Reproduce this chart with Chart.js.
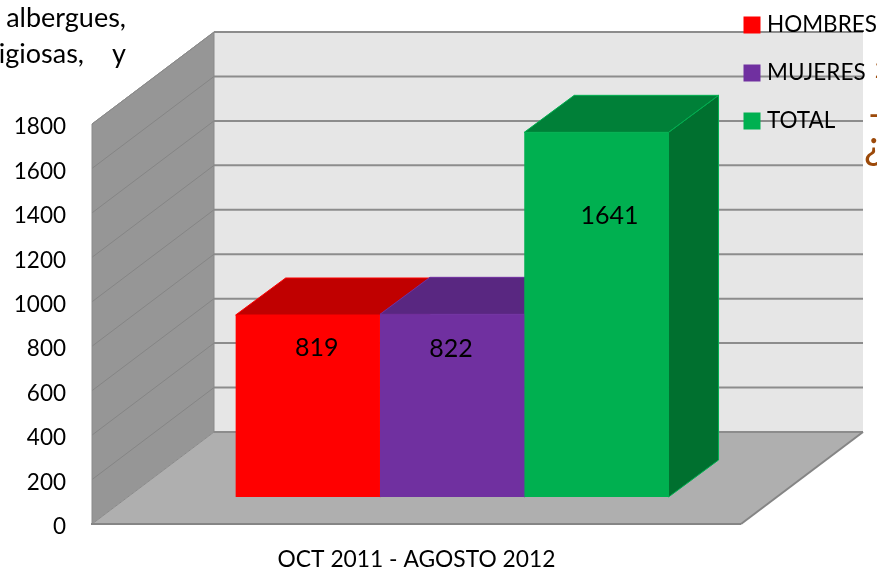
<!DOCTYPE html>
<html>
<head>
<meta charset="utf-8">
<title>OCT 2011 - AGOSTO 2012</title>
<script src="https://cdn.jsdelivr.net/npm/chart.js@4"></script>
<style>
html, body { margin: 0; padding: 0; background: #fff; }
#wrap { width: 877px; height: 567px; position: relative; overflow: hidden; }
</style>
</head>
<body>
<div id="wrap"><canvas id="barras" width="877" height="567"></canvas></div>
<script>
var categorias = ["OCT 2011 - AGOSTO 2012"];
var series = ["HOMBRES", "MUJERES", "TOTAL"];
var hombres = [819];
var mujeres = [822];
var total = [1641];
var tickMax = 1800;
var tickPaso = 200;

var colores = ['#ff0000', '#7030a0', '#00b050'];
var coloresArriba = ['#c00000', '#592781', '#008038'];
var coloresLado = ['#a00000', '#4b1f70', '#00702f'];

var fuente = 'Lato, Carlito, Calibri, sans-serif';

/* fondo 3D: la caja va corrida respecto al plano frontal */
var fondoDx = 122, fondoDy = -92;
var pisoDx = 35.6, pisoDy = -27;
var barraDx = 50, barraDy = -37;

/* ajuste de cada etiqueta respecto a la cara de la barra */
var etiquetaDx = [9, -1, 13];
var etiquetaDy = [33, 35, 84];

function poly(ctx, pts, fill, stroke, lw) {
    ctx.beginPath();
    ctx.moveTo(pts[0][0], pts[0][1]);
    for (var i = 1; i < pts.length; i++) ctx.lineTo(pts[i][0], pts[i][1]);
    ctx.closePath();
    ctx.fillStyle = fill;
    ctx.fill();
    if (stroke) {
        ctx.strokeStyle = stroke;
        ctx.lineWidth = lw || 1;
        ctx.stroke();
    }
}

function linea(ctx, x1, y1, x2, y2, color, lw) {
    ctx.beginPath();
    ctx.moveTo(x1, y1);
    ctx.lineTo(x2, y2);
    ctx.strokeStyle = color;
    ctx.lineWidth = lw;
    ctx.stroke();
}

var caja3d = {
    id: 'caja3d',
    beforeDraw: function(chart) {
        var ctx = chart.ctx;
        var y = chart.scales.y;
        var izq = chart.chartArea.left, der = chart.chartArea.right;
        var y0 = y.getPixelForValue(0), yMax = y.getPixelForValue(tickMax);
        ctx.save();
        /* pared del fondo */
        poly(ctx, [[izq + fondoDx, yMax + fondoDy], [der + fondoDx, yMax + fondoDy], [der + fondoDx, y0 + fondoDy], [izq + fondoDx, y0 + fondoDy]], '#e6e6e6');
        /* pared izquierda */
        poly(ctx, [[izq, yMax], [izq + fondoDx, yMax + fondoDy], [izq + fondoDx, y0 + fondoDy], [izq, y0]], '#969696');
        /* piso */
        poly(ctx, [[izq, y0], [izq + fondoDx, y0 + fondoDy], [der + fondoDx, y0 + fondoDy], [der, y0]], '#afafaf');
        linea(ctx, izq, y0, izq + fondoDx, y0 + fondoDy, '#8a8a8a', 1);
        y.ticks.forEach(function(t) {
            var p = y.getPixelForValue(t.value);
            if (t.value > 0) {
                linea(ctx, izq, p, izq + fondoDx, p + fondoDy, '#858585', 1);
            }
            linea(ctx, izq + fondoDx, p + fondoDy, der + fondoDx, p + fondoDy, '#8c8c8c', 2);
        });
        linea(ctx, izq, yMax, izq, y0, '#8a8a8a', 1);
        linea(ctx, izq, yMax, izq + fondoDx, yMax + fondoDy, '#8a8a8a', 1);
        linea(ctx, izq + fondoDx, yMax + fondoDy, izq + fondoDx, y0 + fondoDy, '#8a8a8a', 1);
        linea(ctx, izq - 1, y0, der, y0, '#858585', 2);
        linea(ctx, der, y0, der + fondoDx, y0 + fondoDy, '#858585', 2);
        ctx.restore();
    },
    beforeDatasetsDraw: function(chart) {
        var ctx = chart.ctx;
        ctx.save();
        ctx.translate(pisoDx, pisoDy);
        /* techo y lado primero, la cara frontal la pinta la libreria encima */
        chart.data.datasets.forEach(function(ds, i) {
            var b = chart.getDatasetMeta(i).data[0];
            var x1 = b.x - b.width / 2, x2 = b.x + b.width / 2;
            poly(ctx, [[x2, b.y], [x2 + barraDx, b.y + barraDy], [x2 + barraDx, b.base + barraDy], [x2, b.base]], coloresLado[i], colores[i], 1);
            poly(ctx, [[x1, b.y], [x2, b.y], [x2 + barraDx, b.y + barraDy], [x1 + barraDx, b.y + barraDy]], coloresArriba[i], colores[i], 1);
        });
    },
    afterDatasetsDraw: function(chart) {
        var ctx = chart.ctx;
        ctx.textAlign = 'center';
        ctx.textBaseline = 'middle';
        ctx.font = '25px ' + fuente;
        ctx.fillStyle = '#000';
        chart.data.datasets.forEach(function(ds, i) {
            var b = chart.getDatasetMeta(i).data[0];
            ctx.fillText(String(ds.data[0]), b.x + etiquetaDx[i], b.y + etiquetaDy[i]);
        });
        ctx.restore();
    },
    afterDraw: function(chart) {
        var ctx = chart.ctx;
        ctx.save();
        /* leyenda encima de la caja */
        ctx.textAlign = 'left';
        ctx.textBaseline = 'middle';
        ctx.font = '22.5px ' + fuente;
        var ys = [25, 73, 121];
        chart.data.datasets.forEach(function(ds, i) {
            ctx.fillStyle = colores[i];
            ctx.fillRect(743.5, ys[i] - 8.5, 17, 17);
            ctx.fillStyle = '#000';
            ctx.fillText(ds.label, 767, ys[i]);
        });
        /* restos del texto de la diapositiva */
        ctx.textBaseline = 'alphabetic';
        ctx.font = '27px ' + fuente;
        ctx.textAlign = 'right';
        ctx.fillText('albergues,', 126, 27);
        ctx.fillText('igiosas,', 84, 63);
        ctx.fillText('y', 126, 63);
        /* restos cortados a la derecha */
        ctx.textAlign = 'left';
        ctx.fillStyle = '#9c4a0a';
        ctx.font = '40px ' + fuente;
        ctx.fillText('\u00bf', 864, 159);
        ctx.font = 'bold 26px ' + fuente;
        ctx.fillText('-', 869, 124);
        ctx.font = 'bold 24px ' + fuente;
        ctx.fillText('2', 875, 78);
        ctx.restore();
    }
};

var ctx = document.getElementById('barras');
var grafico = new Chart(ctx, {
    type: 'bar',
    data: {
        labels: categorias,
        datasets: [
            { label: series[0], data: hombres, backgroundColor: colores[0] },
            { label: series[1], data: mujeres, backgroundColor: colores[1] },
            { label: series[2], data: total, backgroundColor: colores[2] }
        ]
    },
    options: {
        responsive: false,
        animation: false,
        layout: { padding: { left: 0, right: 136, top: 124, bottom: 0 } },
        plugins: {
            legend: { display: false },
            tooltip: { enabled: false }
        },
        datasets: { bar: { categoryPercentage: 0.667, barPercentage: 1, clip: false } },
        scales: {
            x: {
                grid: { display: false },
                border: { display: false },
                ticks: { color: '#000', font: { family: fuente, size: 22.8 }, padding: 14 },
                afterFit: function(scale) { scale.height = 43; }
            },
            y: {
                min: 0,
                max: tickMax,
                grid: { display: false },
                border: { display: false },
                ticks: {
                    stepSize: tickPaso,
                    color: '#000',
                    font: { family: fuente, size: 22.5 },
                    padding: 18,
                    labelOffset: 3,
                    callback: function(value) { return String(value); }
                },
                afterFit: function(scale) { scale.width = 92; }
            }
        }
    },
    plugins: [caja3d]
});
</script>
</body>
</html>
